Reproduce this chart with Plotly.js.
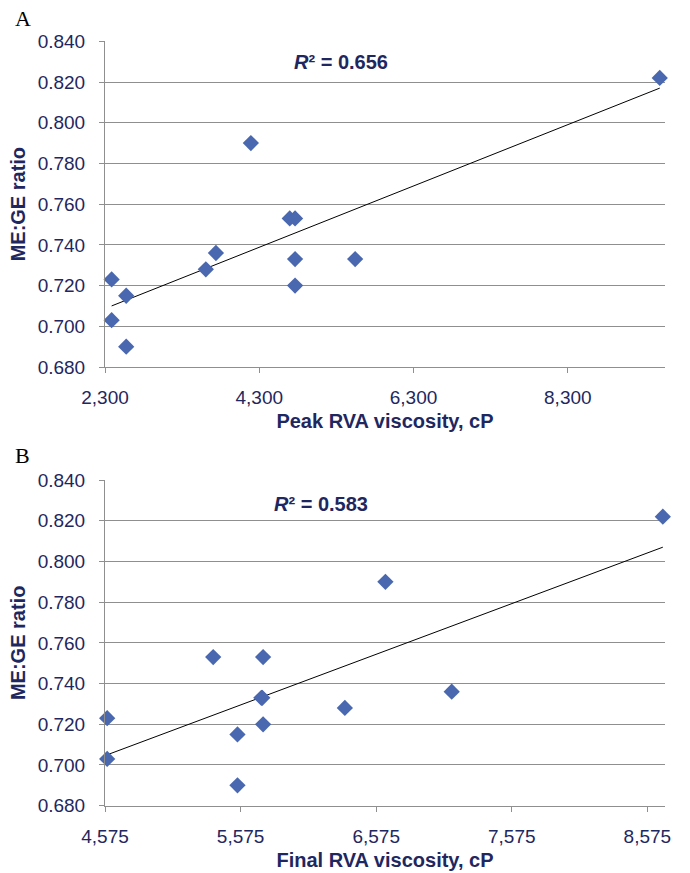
<!DOCTYPE html>
<html>
<head>
<meta charset="utf-8">
<script src="https://cdn.plot.ly/plotly-3.0.1.min.js"></script>
<style>html,body{margin:0;padding:0;background:#fff;}#chart{width:690px;height:873px;}</style>
</head>
<body>
<div id="chart"></div>
<script>
// Panel A: Peak RVA viscosity vs ME:GE ratio
const peakViscosity = [9492, 4191, 4695, 4764, 3738, 3607, 4764, 5543, 4764, 2386, 2575, 2386, 2575];
const ratioA        = [0.822, 0.790, 0.753, 0.753, 0.736, 0.728, 0.733, 0.733, 0.720, 0.723, 0.715, 0.703, 0.690];
const trendAX = [2386, 9492];
const trendAY = [0.710, 0.817];
const peakTicks = [2300, 4300, 6300, 8300];

// Panel B: Final RVA viscosity vs ME:GE ratio
const finalViscosity = [8689, 6643, 5373, 5741, 7132, 6344, 5728, 5735, 5741, 4591, 5552, 4591, 5552];
const ratioB         = [0.822, 0.790, 0.753, 0.753, 0.736, 0.728, 0.733, 0.733, 0.720, 0.723, 0.715, 0.703, 0.690];
const trendBX = [4591, 8689];
const trendBY = [0.705, 0.807];
const finalTicks = [4575, 5575, 6575, 7575, 8575];

const yTicks = [0.680, 0.700, 0.720, 0.740, 0.760, 0.780, 0.800, 0.820, 0.840];

const navy = '#1F2760';
const grid = '#8f8f8f';
const markerColor = '#4A68B0';
const W = 690, H = 873;

const marker = {symbol: 'diamond', size: 12.5, color: markerColor};

const traces = [
  {x: trendAX, y: trendAY, mode: 'lines', line: {color: '#000', width: 1}, xaxis: 'x', yaxis: 'y', hoverinfo: 'skip'},
  {x: peakViscosity, y: ratioA, mode: 'markers', marker: marker, xaxis: 'x', yaxis: 'y', cliponaxis: false},
  {x: trendBX, y: trendBY, mode: 'lines', line: {color: '#000', width: 1}, xaxis: 'x2', yaxis: 'y2', hoverinfo: 'skip'},
  {x: finalViscosity, y: ratioB, mode: 'markers', marker: marker, xaxis: 'x2', yaxis: 'y2', cliponaxis: false}
];

const tickFont = {family: 'Liberation Sans, Arial, sans-serif', size: 19, color: navy};
const titleFont = {family: 'Liberation Sans, Arial, sans-serif', size: 20, color: navy, weight: 'bold'};

function xAxis(domain, range, ticks, title, anchor) {
  return {
    domain: domain, range: range, anchor: anchor,
    tickmode: 'array', tickvals: ticks,
    ticktext: ticks.map(v => v.toLocaleString('en-US')),
    ticks: 'outside', ticklen: 5, tickcolor: grid, tickwidth: 1,
    ticklabelstandoff: 8,
    showline: true, linecolor: grid, linewidth: 1,
    showgrid: false, zeroline: false,
    tickfont: tickFont,
    title: {text: title, font: titleFont, standoff: 7}
  };
}
function yAxis(domain, anchor) {
  return {
    domain: domain, range: [0.680, 0.840], anchor: anchor,
    tickmode: 'array', tickvals: yTicks, ticktext: yTicks.map(v => v.toFixed(3)),
    ticks: 'outside', ticklen: 5, tickcolor: grid, tickwidth: 1,
    ticklabelstandoff: 10,
    showline: true, linecolor: grid, linewidth: 1,
    showgrid: true, gridcolor: grid, gridwidth: 1,
    zeroline: false,
    tickfont: tickFont,
    title: {text: 'ME:GE ratio', font: titleFont, standoff: 6}
  };
}

const xd = [105 / W, 665 / W];
const layout = {
  width: W, height: H,
  margin: {l: 0, r: 0, t: 0, b: 0},
  paper_bgcolor: '#fff', plot_bgcolor: '#fff',
  showlegend: false,
  xaxis: xAxis(xd, [2300, 9560], peakTicks, 'Peak RVA viscosity, cP', 'y'),
  yaxis: yAxis([1 - 367 / H, 1 - 41.3 / H], 'x'),
  xaxis2: xAxis(xd, [4575, 8705], finalTicks, 'Final RVA viscosity, cP', 'y2'),
  yaxis2: yAxis([1 - 805.7 / H, 1 - 480 / H], 'x2'),
  annotations: [
    {xref: 'paper', yref: 'paper', x: 292 / W, y: 1 - 62 / H, xanchor: 'left', yanchor: 'middle',
     text: '<b><i>R</i>² = 0.656</b>', showarrow: false, font: {family: 'Liberation Sans, Arial, sans-serif', size: 20, color: navy}},
    {xref: 'paper', yref: 'paper', x: 272 / W, y: 1 - 504 / H, xanchor: 'left', yanchor: 'middle',
     text: '<b><i>R</i>² = 0.583</b>', showarrow: false, font: {family: 'Liberation Sans, Arial, sans-serif', size: 20, color: navy}},
    {xref: 'paper', yref: 'paper', x: 13 / W, y: 1 - 4 / H, xanchor: 'left', yanchor: 'top',
     text: 'A', showarrow: false, font: {family: 'Liberation Serif, Times New Roman, serif', size: 22, color: '#000'}},
    {xref: 'paper', yref: 'paper', x: 13 / W, y: 1 - 441 / H, xanchor: 'left', yanchor: 'top',
     text: 'B', showarrow: false, font: {family: 'Liberation Serif, Times New Roman, serif', size: 22, color: '#000'}}
  ]
};

Plotly.newPlot('chart', traces, layout, {displayModeBar: false, staticPlot: true});
</script>
</body>
</html>
